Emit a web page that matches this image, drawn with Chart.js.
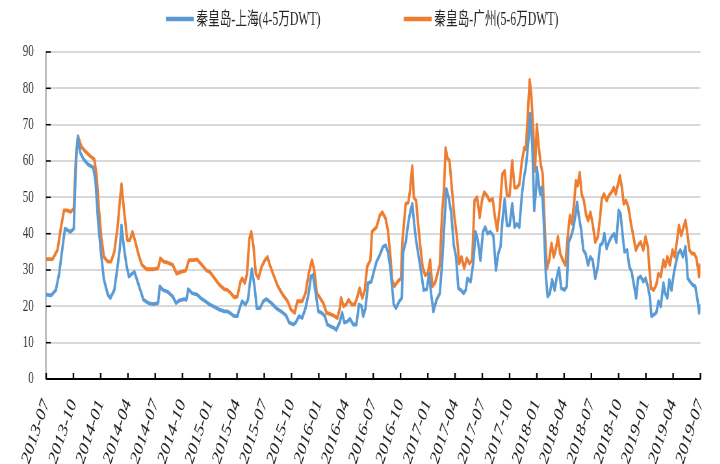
<!DOCTYPE html>
<html>
<head>
<meta charset="utf-8">
<script src="https://cdn.jsdelivr.net/npm/chart.js@4.4.1/dist/chart.umd.min.js"></script>
<style>
  html, body { margin: 0; padding: 0; background: #fff; overflow: hidden; }
  #wrap { width: 720px; height: 464px; overflow: hidden; }
  #c { display: block; transform: scaleX(0.65); transform-origin: 0 0; }
</style>
</head>
<body>
<div id="wrap"><canvas id="c" width="1108" height="464"></canvas></div>
<script>
// ---- tick labels (quarters) ----
const quarterLabels = ['2013-07','2013-10','2014-01','2014-04','2014-07','2014-10','2015-01','2015-04','2015-07','2015-10','2016-01','2016-04','2016-07','2016-10','2017-01','2017-04','2017-07','2017-10','2018-01','2018-04','2018-07','2018-10','2019-01','2019-04','2019-07'];

const seriesNames = ['秦皇岛-上海(4-5万DWT)', '秦皇岛-广州(5-6万DWT)'];

// ---- 秦皇岛-上海 : time in months since 2013-07, freight value ----
const shanghaiMonths = [0,0.54,1.07,1.43,1.79,2.07,2.32,2.68,3.04,3.29,3.5,3.75,4.11,4.64,5.18,5.43,5.71,6,6.36,6.79,7.07,7.5,7.86,8.11,8.29,8.57,8.86,9.11,9.46,9.71,10,10.36,10.71,11.25,11.79,12.32,12.5,12.86,13.39,13.93,14.29,14.64,15.18,15.43,15.64,16.07,16.61,17.14,17.68,
18,18.54,19.07,19.61,19.96,20.32,20.68,21.04,21.29,21.57,21.93,22.21,22.46,22.64,22.93,23.18,23.54,23.89,24.25,24.79,25.32,25.86,26.39,26.75,27.21,27.46,27.82,28.18,28.54,28.89,29.14,29.36,29.61,29.96,30.32,30.68,30.93,31.29,31.64,31.93,32.29,32.57,32.82,33.18,33.43,33.79,34.14,34.43,34.71,34.89,35.14,35.43,35.79,
36,36.36,36.71,37.07,37.36,37.61,37.86,38.07,38.25,38.5,38.86,39.14,39.29,39.57,39.86,40.11,40.29,40.5,40.71,41,41.29,41.54,41.89,42.14,42.36,42.61,42.96,43.32,43.57,43.86,44.04,44.29,44.57,44.86,45.11,45.36,45.64,45.93,46.18,46.36,46.71,47,47.25,47.5,47.79,48.07,48.32,48.57,48.86,49.21,49.5,49.75,50,50.21,50.46,50.71,51,51.29,51.54,51.79,52.07,52.36,52.61,52.79,53.07,53.25,53.5,53.71,53.93,
54,54.18,54.36,54.54,54.71,55,55.18,55.43,55.68,55.96,56.21,56.43,56.68,57.04,57.29,57.5,57.75,58,58.21,58.43,58.64,58.89,59.11,59.36,59.64,59.89,60.14,60.43,60.71,60.96,61.21,61.43,61.68,61.93,62.21,62.5,62.75,63,63.21,63.46,63.64,63.93,64.18,64.43,64.71,64.93,65.14,65.43,65.71,65.96,66.21,66.43,66.61,66.86,67.14,67.39,67.64,67.93,68.11,68.36,68.57,68.82,69.07,69.29,69.54,69.79,70.07,70.36,70.61,70.86,71.14,71.43,71.68,71.86,72];
const shanghaiValues = [23.2,23,24.5,29,36,41.4,41,40.5,41.4,60,66.8,62.3,60.5,59,58.2,54.5,43.6,35.5,27.3,23.2,22.3,24.5,31,36,42.3,36,31,28.2,29,29.5,27.3,24.5,21.8,20.9,20.6,20.9,25.5,24.5,24,22.7,20.9,21.6,22,21.8,24.7,23.6,23.2,22,21.1,
20.5,19.8,19.1,18.6,18.6,18,17.3,17.3,19.5,21.4,20.5,21.8,27.3,30.2,25.5,19.5,19.5,21.4,22,20.9,19.5,18.6,17.5,15.5,15,15.5,17.3,16.8,19.5,23.6,28.2,28.6,24.5,18.6,18.2,17.3,15,14.5,14.1,13.5,15.5,18.2,15.5,15.9,16.6,15,15,20.5,20,17.3,19.5,26.4,26.8,
29,32.3,34.1,36.4,36.8,35,30.9,25.5,20.5,19.5,21.4,22.3,35,37.7,43.2,46.4,48.2,42.7,38.2,33.6,29,24.5,24.7,29,23.6,18.6,21.8,23.6,31.8,44.5,52.3,50,45.9,36.8,33.6,25,24.5,23.6,24.5,27.7,26.8,31.8,40.5,38.2,32.7,40.5,41.8,40,40.5,39.5,30,34.5,36.4,43.6,49.5,42.3,42.3,48.2,41.8,42.7,41.8,50.9,55.9,58.2,65.5,73,64.5,46.4,52.7,
58.2,54.5,50.9,52.7,46.4,28.2,22.7,23.6,27.3,24.5,28.2,30.5,25,24.5,25.5,37.7,39.1,41.4,44.5,48.6,44.5,40.9,35.5,34.5,31.4,33.6,32.7,27.7,30.9,36.8,37.3,40,35.9,37.7,39.1,40,37.7,46.4,45.5,39.1,35,35.5,30.9,29.5,25.5,22.3,27.7,28.2,26.8,27.7,25.5,22.7,17.3,17.7,18.2,21.4,20,26.4,23.6,22.3,27.3,24.5,29,31.8,34.5,35.5,33.6,36.4,27.7,26.8,25.9,25.5,21.8,18.2,20.5];

// ---- 秦皇岛-广州 ----
const guangzhouMonths = [0,0.71,1.25,1.61,1.96,2.32,2.68,3.04,3.29,3.5,3.86,4.29,4.82,5.29,5.54,5.79,6.07,6.36,6.79,7.14,7.5,7.86,8.11,8.29,8.57,8.93,9.21,9.5,9.82,10.18,10.54,11.07,11.79,12.32,12.57,12.93,13.39,13.93,14.36,14.82,15.36,15.71,16.25,16.61,17.14,17.68,
18,18.54,19.07,19.61,19.96,20.32,20.68,21.04,21.39,21.57,21.86,22.11,22.36,22.57,22.82,23.07,23.36,23.71,24.07,24.36,24.61,24.96,25.5,26.04,26.57,26.93,27.36,27.64,28.18,28.54,28.89,29.25,29.5,29.79,30.14,30.5,30.86,31.39,31.75,32.04,32.29,32.46,32.71,33,33.29,33.64,33.96,34.25,34.5,34.79,35.07,35.32,35.68,35.86,
36,36.36,36.71,37,37.36,37.61,37.86,38.07,38.32,38.68,39.04,39.21,39.57,39.86,40.04,40.29,40.46,40.71,40.93,41.18,41.43,41.71,42,42.25,42.5,42.79,43.07,43.32,43.57,43.79,43.96,44.14,44.39,44.64,44.93,45.21,45.46,45.71,46,46.29,46.57,46.89,47.14,47.43,47.71,47.96,48.21,48.5,48.79,49.14,49.39,49.64,49.93,50.21,50.46,50.71,51,51.29,51.54,51.79,52.07,52.36,52.61,52.79,52.96,53.21,53.39,53.61,53.79,
54,54.18,54.43,54.64,54.79,55,55.14,55.36,55.61,55.86,56.07,56.32,56.57,56.86,57.14,57.39,57.64,57.86,58.11,58.29,58.5,58.71,58.93,59.18,59.43,59.64,59.89,60.14,60.43,60.71,60.96,61.14,61.39,61.68,61.93,62.21,62.46,62.68,62.93,63.14,63.36,63.57,63.82,64.07,64.36,64.64,64.89,65.14,65.43,65.71,65.96,66.21,66.43,66.57,66.86,67.14,67.39,67.64,67.93,68.14,68.36,68.64,68.93,69.18,69.43,69.64,69.89,70.14,70.36,70.61,70.79,71.07,71.32,71.57,71.86,72];
const guangzhouValues = [33,33,35.5,41.4,46.4,46.4,46,46.8,61.8,66.8,64,62.7,61.4,60.5,56.4,47.3,39,33.6,32.3,32.3,35,41.8,49,53.6,46.4,38.2,38.2,40.5,37.7,34.1,31.4,30.2,30.2,30.5,33.2,32.3,32,31.4,29,29.5,29.8,32.7,32.7,32.9,31.4,29.8,
29.5,27.7,25.9,24.7,24.5,23.6,22.5,22.7,26.8,27.7,26.4,29,38.6,40.5,36.4,29,27.7,30.9,32.7,33.6,31.4,29,25.5,23.2,21.4,19.1,18.2,21.4,21.4,23.6,29,32.7,30,23.6,22.3,20.9,18.2,17.7,17.3,16.8,19.1,22.3,20,20.5,21.8,20.5,20.5,22.7,25,22.3,24.5,30.9,32.7,40.5,
40.9,41.8,45,45.9,44.1,40.9,34.5,27.3,25.5,26.8,27.7,38.2,48.2,48.6,51.8,58.6,50,49.1,42.7,36.4,30.9,28.6,29,32.7,25.5,26.4,29,31.4,45.5,52.7,63.6,60.9,60,52.7,44.5,39.1,31.8,33.6,30.5,33.2,31.8,32.7,49.1,50,44.5,49.1,51.4,50.5,49.1,49.5,44.5,40.9,47.3,56.4,57.3,50.5,50.5,60,52.7,52.7,53.6,60,63.6,63.2,70.9,82.3,78.2,68.2,57.3,
70,64.5,59.1,56.4,46.4,34.5,30.5,32.7,37.3,33.6,35.5,39.1,34.5,32.7,31.4,39.1,45,42.7,48.6,54.5,53.2,56.8,50.9,49.1,45,43.6,45.9,42.7,37.7,39.1,44.5,49.5,50.9,49.1,50.5,51.4,52.7,50.9,53.6,55.9,52.7,48.2,49.1,47.3,42.7,39.1,35.5,36.8,37.7,35.5,39.1,36.4,29,25,24.5,25.9,29,28.2,32.7,30.9,33.6,31.4,35.5,33.6,38.2,42.3,39.5,41.8,43.6,39.1,35.5,34.5,34.5,33.2,28.2,31.8];

const colors = ['#5B9BD5', '#ED7D31'];
const zip = (xs, ys) => xs.map((x, i) => ({ x: x, y: ys[i] }));

// draw short inward tick marks on both axes
const innerTicks = {
  id: 'innerTicks',
  beforeDatasetsDraw(chart) {
    const { ctx, chartArea, scales } = chart;
    ctx.save();
    ctx.strokeStyle = '#000';
    ctx.lineWidth = 1.5;
    scales.y.ticks.forEach(t => {
      const y = scales.y.getPixelForValue(t.value);
      ctx.beginPath();
      ctx.moveTo(chartArea.left, y);
      ctx.lineTo(chartArea.left + 7, y);
      ctx.stroke();
    });
    ctx.lineWidth = 2.4;
    scales.x.ticks.forEach(t => {
      const x = scales.x.getPixelForValue(t.value);
      ctx.beginPath();
      ctx.moveTo(x, chartArea.bottom);
      ctx.lineTo(x, chartArea.bottom - 6);
      ctx.stroke();
    });
    ctx.restore();
  }
};

// legend drawn at the top, centred
const topLegend = {
  id: 'topLegend',
  afterDraw(chart) {
    const { ctx } = chart;
    ctx.save();
    ctx.font = '18px "Liberation Serif", "Noto Sans CJK SC"';
    ctx.textBaseline = 'middle';
    const lineLen = 43, gap = 4, spacing = 128, y = 19;
    const widths = chart.data.datasets.map(d => ctx.measureText(d.label).width);
    const total = widths.reduce((a, w) => a + lineLen + gap + w, 0) + spacing * (widths.length - 1);
    let x = (chart.width - total) / 2 + 3;
    chart.data.datasets.forEach((d, i) => {
      ctx.strokeStyle = d.borderColor;
      ctx.lineWidth = 4.5;
      ctx.beginPath();
      ctx.moveTo(x, y);
      ctx.lineTo(x + lineLen, y);
      ctx.stroke();
      x += lineLen + gap;
      ctx.fillStyle = '#262626';
      ctx.fillText(d.label, x, y + 1);
      x += widths[i] + spacing;
    });
    ctx.restore();
  }
};

new Chart(document.getElementById('c'), {
  type: 'line',
  data: {
    datasets: [
      { label: seriesNames[0], data: zip(shanghaiMonths, shanghaiValues), borderColor: colors[0], backgroundColor: colors[0], borderWidth: 3.8, pointRadius: 0, tension: 0, borderJoinStyle: 'round' },
      { label: seriesNames[1], data: zip(guangzhouMonths, guangzhouValues), borderColor: colors[1], backgroundColor: colors[1], borderWidth: 3.8, pointRadius: 0, tension: 0, borderJoinStyle: 'round' }
    ]
  },
  options: {
    responsive: false,
    animation: false,
    devicePixelRatio: 1,
    layout: { padding: { top: 52, right: 3, left: 0, bottom: 0 } },
    plugins: { legend: { display: false }, tooltip: { enabled: false } },
    scales: {
      x: {
        type: 'linear', min: 0, max: 72,
        afterBuildTicks: s => { s.ticks = quarterLabels.map((_, i) => ({ value: i * 3 })); },
        afterFit: s => { s.height = 85; },
        grid: { display: false },
        border: { display: true, color: '#000', width: 2 },
        ticks: {
          autoSkip: false, minRotation: 63, maxRotation: 63, padding: 8,
          color: '#222',
          font: { family: '"Liberation Serif", serif', size: 21 },
          callback: v => quarterLabels[Math.round(v / 3)]
        }
      },
      y: {
        min: 0, max: 90,
        afterFit: s => { s.width = 71; },
        grid: {
          color: c => (c.tick && c.tick.value === 0) ? 'rgba(0,0,0,0)' : '#d9d9d9',
          lineWidth: 2, drawTicks: false
        },
        border: { display: true, color: '#808080', width: 1.5 },
        ticks: {
          stepSize: 10, padding: 19, color: '#333',
          font: { family: '"Liberation Serif", serif', size: 17 }
        }
      }
    }
  },
  plugins: [innerTicks, topLegend]
});
</script>
</body>
</html>
